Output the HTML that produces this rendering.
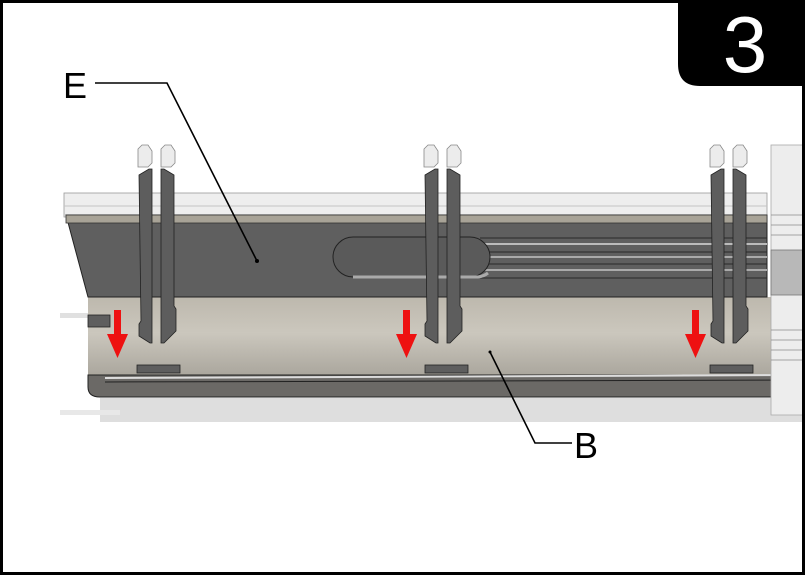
<!DOCTYPE html>
<html><head><meta charset="utf-8"><style>
html,body{margin:0;padding:0;background:#fff}
svg{display:block}
text{font-family:"Liberation Sans",sans-serif}
</style></head><body>
<svg width="805" height="575" viewBox="0 0 805 575" xmlns="http://www.w3.org/2000/svg">
<defs>
<linearGradient id="tube" x1="0" y1="0" x2="0" y2="1">
<stop offset="0" stop-color="#bdb8ad"/><stop offset="0.45" stop-color="#cbc7bd"/><stop offset="1" stop-color="#a9a59c"/>
</linearGradient>
<g id="clip">
<path d="M0 4 l4 -4 h6 l4 6 v12 l-4 4 h-10 z" fill="#ececec" stroke="#888" stroke-width="0.8"/>
<path d="M23 4 l4 -4 h6 l4 6 v12 l-4 4 h-10 z" fill="#ececec" stroke="#888" stroke-width="0.8"/>
<path d="M1 30 l10 -6 h3 v174 h-2 l-11 -7 v-12 l2 -3 z" fill="#5d5d5d" stroke="#222" stroke-width="0.8"/>
<path d="M23 24 h3 l10 6 v131 l2 3 v22 l-12 12 h-3 z" fill="#5d5d5d" stroke="#222" stroke-width="0.8"/>
</g>
</defs>
<rect x="0" y="0" width="805" height="575" fill="#fff"/>
<rect x="100" y="398" width="705" height="24" fill="#dedede"/>
<rect x="60" y="410" width="60" height="5" fill="#e8e8e8"/>
<rect x="60" y="313" width="35" height="5" fill="#e0e0e0"/>
<rect x="64" y="193" width="703" height="24" fill="#eeeeee" stroke="#999" stroke-width="0.8"/>
<line x1="64" y1="206" x2="767" y2="206" stroke="#c4c4c4"/>
<rect x="88" y="297" width="717" height="80" fill="url(#tube)"/>
<path d="M88 375 h717 v22 H100 q-12 0 -12 -10 z" fill="#6b6966" stroke="#222" stroke-width="1"/>
<line x1="105" y1="378" x2="805" y2="375" stroke="#ddd" stroke-width="2"/>
<line x1="105" y1="382" x2="805" y2="380" stroke="#222" stroke-width="1"/>
<rect x="137" y="365" width="43" height="8" fill="#5e5e5e" stroke="#222" stroke-width="0.8"/>
<rect x="425" y="365" width="43" height="8" fill="#5e5e5e" stroke="#222" stroke-width="0.8"/>
<rect x="710" y="365" width="43" height="8" fill="#5e5e5e" stroke="#222" stroke-width="0.8"/>
<rect x="88" y="315" width="22" height="12" fill="#5e5e5e" stroke="#222" stroke-width="0.8"/>
<path d="M66 215 H767 V297 H88 Z" fill="#5f5f5f" stroke="#222" stroke-width="1"/>
<rect x="66" y="215" width="701" height="8" fill="#a8a397" stroke="#333" stroke-width="0.8"/>
<g stroke="#2a2a2a" stroke-width="1">
<line x1="480" y1="238" x2="767" y2="238"/><line x1="480" y1="244" x2="767" y2="244" stroke="#bbb" stroke-width="2"/>
<line x1="480" y1="252" x2="767" y2="252"/><line x1="480" y1="257" x2="767" y2="257" stroke="#aaa" stroke-width="2"/>
<line x1="480" y1="264" x2="767" y2="264"/><line x1="480" y1="270" x2="767" y2="270" stroke="#aaa" stroke-width="2"/>
<line x1="480" y1="278" x2="767" y2="278"/>
</g>
<rect x="333" y="237" width="157" height="40" rx="20" fill="#5a5a5a" stroke="#222" stroke-width="1"/>
<path d="M353 277 h125 a20 20 0 0 0 10 -4" fill="none" stroke="#aaa" stroke-width="3"/>
<use href="#clip" x="138" y="145"/>
<use href="#clip" x="424" y="145"/>
<use href="#clip" x="710" y="145"/>
<rect x="771" y="145" width="34" height="270" fill="#ededed" stroke="#aaa" stroke-width="0.8"/>
<g stroke="#888" stroke-width="0.8">
<line x1="771" y1="215" x2="805" y2="215"/><line x1="771" y1="225" x2="805" y2="225"/><line x1="771" y1="235" x2="805" y2="235"/>
<line x1="771" y1="330" x2="805" y2="330"/><line x1="771" y1="340" x2="805" y2="340"/><line x1="771" y1="350" x2="805" y2="350"/><line x1="771" y1="360" x2="805" y2="360"/>
</g>
<rect x="771" y="250" width="34" height="45" fill="#b8b8b8" stroke="#777" stroke-width="0.8"/>
<g fill="#ee1111">
<rect x="114" y="310" width="7" height="26"/><path d="M107 334 h21 l-10.5 24 z"/>
<rect x="403" y="310" width="7" height="26"/><path d="M396 334 h21 l-10.5 24 z"/>
<rect x="692" y="310" width="7" height="26"/><path d="M685 334 h21 l-10.5 24 z"/>
</g>
<polyline points="95,83 167,83 257,261" fill="none" stroke="#000" stroke-width="1.6"/>
<circle cx="257" cy="261" r="2" fill="#000"/>
<polyline points="490,352 535,443 572,443" fill="none" stroke="#000" stroke-width="1.6"/>
<circle cx="490" cy="352" r="1.5" fill="#000"/>
<text x="63" y="98" font-size="36" fill="#000">E</text>
<text x="574" y="458" font-size="36" fill="#000">B</text>
<path d="M678 0 H805 V86 H700 Q678 86 678 64 Z" fill="#000"/>
<text x="745" y="72" font-size="80" fill="#fff" text-anchor="middle">3</text>
<rect x="1.5" y="1.5" width="802" height="572" fill="none" stroke="#000" stroke-width="3"/>
</svg>
</body></html>
